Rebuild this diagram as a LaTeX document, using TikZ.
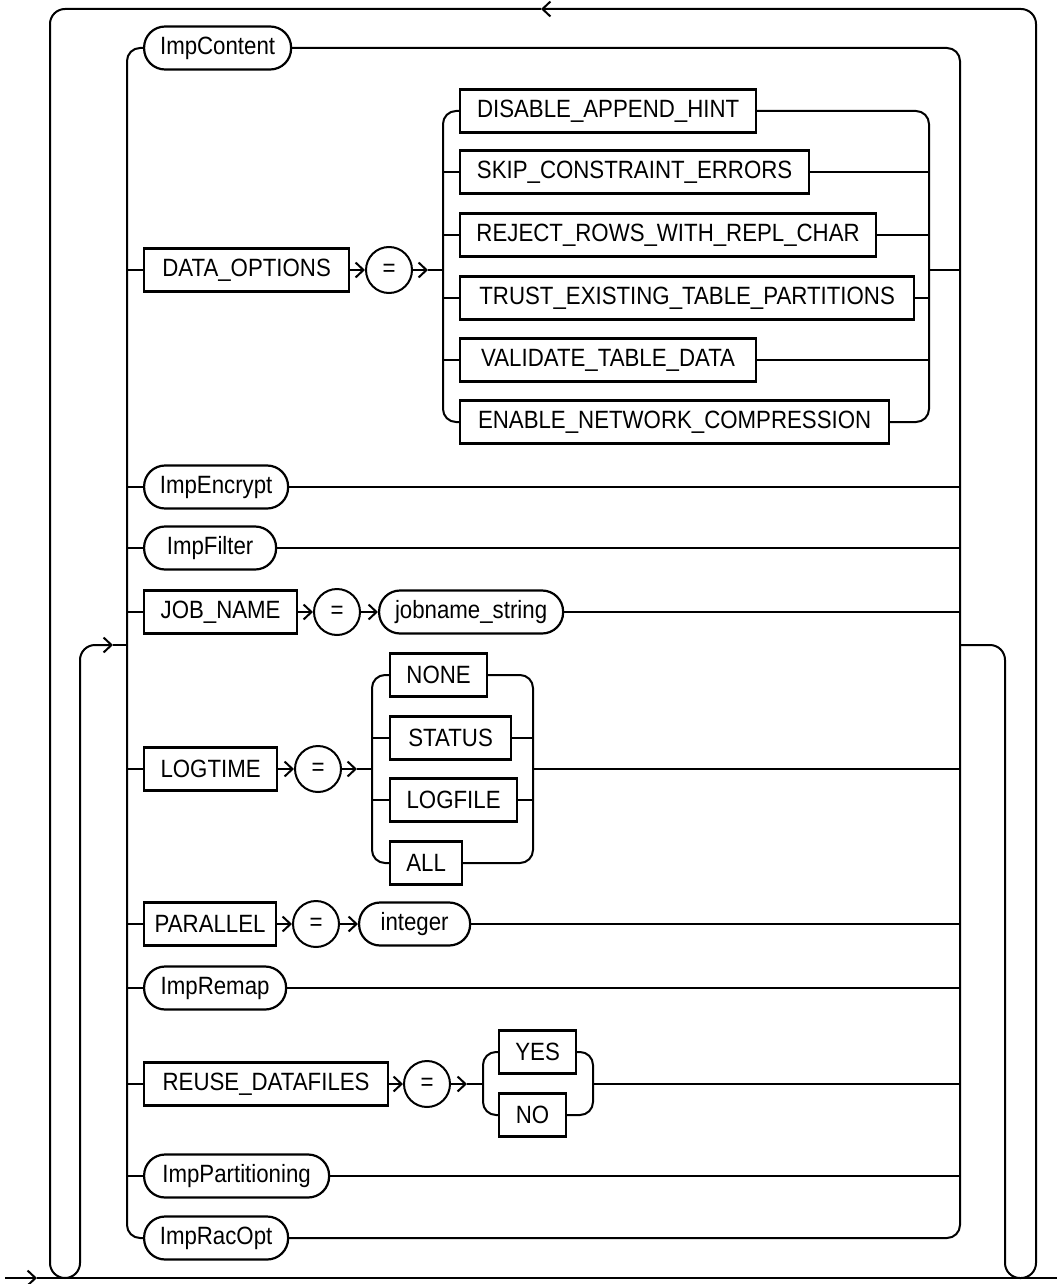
\documentclass[tikz,border=0pt]{standalone}
\usepackage{fontspec}
\setmainfont{Liberation Sans}[FakeStretch=0.89]
\usetikzlibrary{arrows.meta,calc}
\begin{document}
\begin{tikzpicture}[x=1pt,y=-1pt]
\tikzset{
  ln/.style={line width=2pt, line join=round},
  chev/.style={-{Straight Barb[length=8pt,width=15pt,line width=2pt]}},
  kw/.style={draw, line width=2.2pt, rectangle, minimum height=43pt, inner sep=0pt, anchor=west, font=\fontsize{25}{30}\selectfont},
  nt/.style={kw, rounded corners=21pt},
  eqc/.style={draw, circle, line width=2pt, minimum size=46pt, inner sep=0pt, font=\fontsize{25}{30}\selectfont},
  rc/.style={rounded corners=13pt},
  uc/.style={rounded corners=15pt}
}
\useasboundingbox (0,0) rectangle (1057,1284);

% bus coordinates
\coordinate (lb) at (127,0);
\coordinate (rb) at (960,0);
\coordinate (ilb) at (443,0);
\coordinate (irb) at (929,0);
\coordinate (llb) at (372,0);
\coordinate (lrb) at (533,0);
\coordinate (rlb) at (483,0);
\coordinate (rrb) at (593,0);

% nodes
\node[nt, minimum width=147pt] (impcontent) at (143,48) {ImpContent};
\node[kw, minimum width=205pt] (dataopt) at (143,270) {DATA\_OPTIONS};
\node[eqc] (eq1) at (389,270) {=};
\coordinate (eq1a) at (428,270);
\node[kw, minimum width=296pt] (da1) at (459,111) {DISABLE\_APPEND\_HINT};
\node[kw, minimum width=349pt] (da2) at (459,172) {SKIP\_CONSTRAINT\_ERRORS};
\node[kw, minimum width=416pt] (da3) at (459,235) {REJECT\_ROWS\_WITH\_REPL\_CHAR};
\node[kw, minimum width=454pt] (da4) at (459,298) {TRUST\_EXISTING\_TABLE\_PARTITIONS};
\node[kw, minimum width=296pt] (da5) at (459,360) {VALIDATE\_TABLE\_DATA};
\node[kw, minimum width=429pt] (da6) at (459,422) {ENABLE\_NETWORK\_COMPRESSION};
\node[nt, minimum width=144pt] (impencrypt) at (143,487) {ImpEncrypt};
\node[nt, minimum width=132pt] (impfilter) at (143,548) {ImpFilter};
\node[kw, minimum width=153pt] (jobname) at (143,612) {JOB\_NAME};
\node[eqc] (eq2) at (337,612) {=};
\node[nt, minimum width=184pt] (jobstr) at (378,612) {jobname\_string};
\node[kw, minimum width=133pt] (logtime) at (143,769) {LOGTIME};
\node[eqc] (eq3) at (318,769) {=};
\coordinate (eq3a) at (357,769);
\node[kw, minimum width=97pt] (none) at (389,675) {NONE};
\node[kw, minimum width=121pt] (status) at (389,738) {STATUS};
\node[kw, minimum width=127pt] (logfile) at (389,800) {LOGFILE};
\node[kw, minimum width=72pt] (all) at (389,863) {ALL};
\node[kw, minimum width=132pt] (parallel) at (143,924) {PARALLEL};
\node[eqc] (eq4) at (316,924) {=};
\node[nt, minimum width=111pt] (integer) at (358,924) {integer};
\node[nt, minimum width=142pt] (impremap) at (143,988) {ImpRemap};
\node[kw, minimum width=244pt] (reuse) at (143,1084) {REUSE\_DATAFILES};
\node[eqc] (eq5) at (427,1084) {=};
\coordinate (eq5a) at (467,1084);
\node[kw, minimum width=77pt] (yes) at (498,1052) {YES};
\node[kw, minimum width=67pt] (no) at (498,1115) {NO};
\node[nt, minimum width=185pt] (imppart) at (143,1176) {ImpPartitioning};
\node[nt, minimum width=144pt] (impracopt) at (143,1238) {ImpRacOpt};

% main outer buses
\draw[ln,rc] (impcontent.west) -| (lb |- impracopt.west) -- (impracopt.west);
\draw[ln,rc] (impcontent.east) -| (rb |- impracopt.east) -- (impracopt.east);

% simple rows
\foreach \n in {impencrypt, impfilter, impremap, imppart}{
  \draw[ln] (lb |- \n.west) -- (\n.west);
  \draw[ln] (\n.east) -- (rb |- \n.east);
}

% DATA_OPTIONS row
\draw[ln] (lb |- dataopt.west) -- (dataopt.west);
\draw[ln,chev] (dataopt.east) -- (eq1.west);
\draw[ln,chev] (eq1.east) -- (eq1a);
\draw[ln] (eq1a) -- (ilb |- eq1a);
\draw[ln,rc] (da1.west) -| (ilb |- da6.west) -- (da6.west);
\draw[ln,rc] (da1.east) -| (irb |- da6.east) -- (da6.east);
\foreach \n in {da2,da3,da4,da5}{
  \draw[ln] (ilb |- \n.west) -- (\n.west);
  \draw[ln] (\n.east) -- (irb |- \n.east);
}
\draw[ln] (irb |- dataopt.east) -- (rb |- dataopt.east);

% JOB_NAME row
\draw[ln] (lb |- jobname.west) -- (jobname.west);
\draw[ln,chev] (jobname.east) -- (eq2.west);
\draw[ln,chev] (eq2.east) -- (jobstr.west);
\draw[ln] (jobstr.east) -- (rb |- jobstr.east);

% LOGTIME row
\draw[ln] (lb |- logtime.west) -- (logtime.west);
\draw[ln,chev] (logtime.east) -- (eq3.west);
\draw[ln,chev] (eq3.east) -- (eq3a);
\draw[ln] (eq3a) -- (llb |- eq3a);
\draw[ln,rc] (none.west) -| (llb |- all.west) -- (all.west);
\draw[ln,rc] (none.east) -| (lrb |- all.east) -- (all.east);
\foreach \n in {status,logfile}{
  \draw[ln] (llb |- \n.west) -- (\n.west);
  \draw[ln] (\n.east) -- (lrb |- \n.east);
}
\draw[ln] (lrb |- logtime.east) -- (rb |- logtime.east);

% PARALLEL row
\draw[ln] (lb |- parallel.west) -- (parallel.west);
\draw[ln,chev] (parallel.east) -- (eq4.west);
\draw[ln,chev] (eq4.east) -- (integer.west);
\draw[ln] (integer.east) -- (rb |- integer.east);

% REUSE_DATAFILES row
\draw[ln] (lb |- reuse.west) -- (reuse.west);
\draw[ln,chev] (reuse.east) -- (eq5.west);
\draw[ln,chev] (eq5.east) -- (eq5a);
\draw[ln] (eq5a) -- (rlb |- eq5a);
\draw[ln,rc] (yes.west) -| (rlb |- no.west) -- (no.west);
\draw[ln,rc] (yes.east) -| (rrb |- no.east) -- (no.east);
\draw[ln] (rrb |- reuse.east) -- (rb |- reuse.east);

% main line and repeat loop
\coordinate (mainS) at (5,1278);
\coordinate (mainA) at (37,1278);
\coordinate (mainE) at (1057,1278);
\coordinate (topA) at (541,9);
\coordinate (loopIn) at (127,645);
\coordinate (loopInA) at (113,645);
\coordinate (loopOut) at (960,645);
\draw[ln,chev] (mainS) -- (mainA);
\draw[ln] (mainA) -- (mainE);
\draw[ln,uc,chev] (topA) -- (50,9) -- (50,1278) -- (80,1278) -- (80,645) -- (loopInA);
\draw[ln] (loopInA) -- (loopIn);
\draw[ln,uc,chev] (loopOut) -- (1005,645) -- (1005,1278) -- (1036,1278) -- (1036,9) -- (topA);
\end{tikzpicture}
\end{document}
